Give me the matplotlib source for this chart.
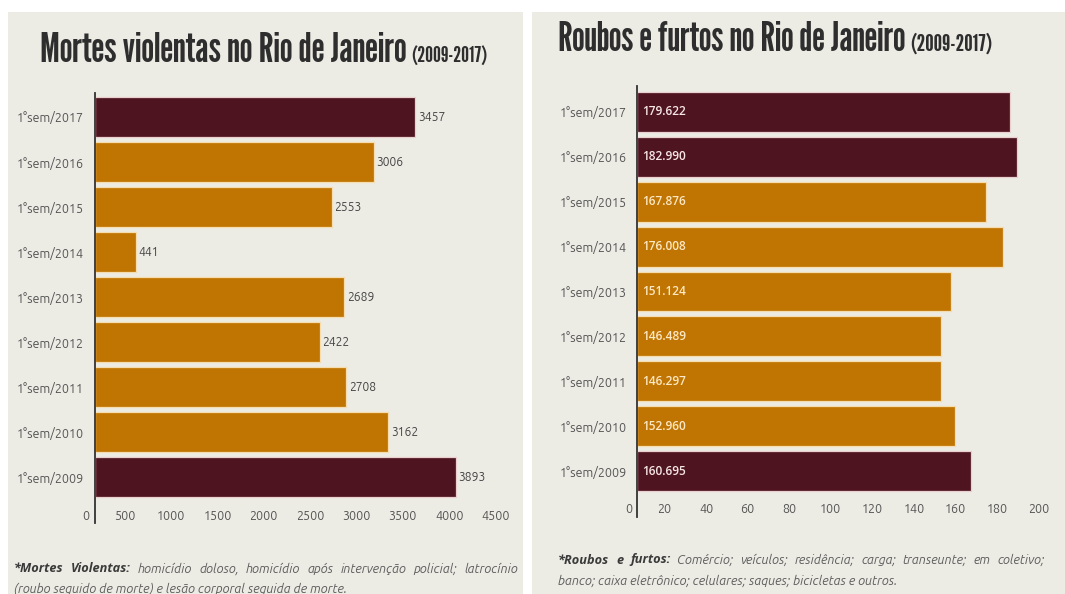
import matplotlib
matplotlib.use("Agg")
import matplotlib.pyplot as plt
from matplotlib.patches import Rectangle
from matplotlib.transforms import ScaledTranslation, blended_transform_factory

# ---------------- data ----------------
semestres = ['1°sem/2009', '1°sem/2010', '1°sem/2011', '1°sem/2012', '1°sem/2013',
             '1°sem/2014', '1°sem/2015', '1°sem/2016', '1°sem/2017']
mortes = [3893, 3162, 2708, 2422, 2689, 441, 2553, 3006, 3457]
roubos = [160.695, 152.960, 146.297, 146.489, 151.124, 176.008, 167.876, 182.990, 179.622]
mortes_destaque = ['1°sem/2009', '1°sem/2017']
roubos_destaque = ['1°sem/2009', '1°sem/2016', '1°sem/2017']
mortes_ticks = [0, 500, 1000, 1500, 2000, 2500, 3000, 3500, 4000, 4500]
roubos_ticks = [0, 20, 40, 60, 80, 100, 120, 140, 160, 180, 200]

titulo_mortes = 'Mortes violentas no Rio de Janeiro'
titulo_roubos = 'Roubos e furtos no Rio de Janeiro'
periodo = '(2009-2017)'

nota_mortes_l1 = [('*Mortes', True), ('Violentas:', True), ('homicídio', False), ('doloso,', False),
                  ('homicídio', False), ('após', False), ('intervenção', False), ('policial;', False),
                  ('latrocínio', False)]
nota_mortes_l2 = '(roubo seguido de morte) e lesão corporal seguida de morte.'
nota_roubos_l1 = [('*Roubos', True), ('e', True), ('furtos:', True), ('Comércio;', False),
                  ('veículos;', False), ('residência;', False), ('carga;', False),
                  ('transeunte;', False), ('em', False), ('coletivo;', False)]
nota_roubos_l2 = 'banco; caixa eletrônico; celulares; saques; bicicletas e outros.'

# ---------------- style ----------------
W, H, DPI = 1065, 594, 100
BG = '#ECEBE4'
MAROON = '#4E1520'
ORANGE = '#C07402'
EDGE_M = '#EBCFCF'
EDGE_O = '#F6DDB0'
TITLE_C = '#2E2E2E'
TICK_C = '#555555'
SANS = ['Ubuntu', 'Open Sans', 'DejaVu Sans']
BOLD_SANS = ['Open Sans', 'DejaVu Sans']
TITLE_FONT = ['League Gothic', 'Oswald', 'DejaVu Sans']

plt.rcParams['font.family'] = SANS

fig = plt.figure(figsize=(W / DPI, H / DPI), dpi=DPI, facecolor='white')


def fx(x):
    return x / W


def fy(y):
    return 1 - y / H


def px_axes(x0, y0, x1, y1):
    return fig.add_axes([fx(x0), fy(y1), (x1 - x0) / W, (y1 - y0) / H])


# background panels
fig.add_artist(Rectangle((fx(8), fy(594)), (523 - 8) / W, (594 - 12) / H,
                         transform=fig.transFigure, facecolor=BG, edgecolor='none', zorder=0))
fig.add_artist(Rectangle((fx(532), fy(594)), (1065 - 532) / W, (594 - 12) / H,
                         transform=fig.transFigure, facecolor=BG, edgecolor='none', zorder=0))


def bar_panel(ax, values, destaque, xmax, ylim, ticks, inside, tick_dx, zero_dx, tick_dy, ypad):
    cores = [MAROON if s in destaque else ORANGE for s in semestres]
    bordas = [EDGE_M if s in destaque else EDGE_O for s in semestres]
    ypos = list(range(len(semestres)))
    ax.barh(ypos, values, height=0.89, color=cores, edgecolor=bordas, linewidth=0.9, zorder=2)
    ax.set_xlim(0, xmax)
    ax.set_ylim(*ylim)
    ax.patch.set_visible(False)
    for sp in ['top', 'right', 'bottom']:
        ax.spines[sp].set_visible(False)
    ax.spines['left'].set_color('#333333')
    ax.spines['left'].set_linewidth(1.3)
    ax.spines['left'].set_zorder(3)
    ax.set_yticks(ypos)
    ax.set_yticklabels(semestres)
    ax.tick_params(axis='y', length=0, pad=ypad, labelsize=9, labelcolor=TICK_C)
    ax.set_xticks([])
    # x tick labels (placed at the data positions of the ticks)
    trans = blended_transform_factory(ax.transData, ax.transAxes)
    for t in ticks:
        dx = zero_dx if t == 0 else tick_dx
        off = ScaledTranslation(dx / DPI, tick_dy / DPI, fig.dpi_scale_trans)
        ax.text(t, 0, str(t), transform=trans + off, ha='center', va='center',
                fontsize=9, color=TICK_C)
    # value labels
    for i, (s, v) in enumerate(zip(semestres, values)):
        if inside:
            cor = '#F7E6E6' if s in destaque else '#FCE8C4'
            ax.annotate('%.3f' % v, (0, i), xytext=(3.8, 0), textcoords='offset points',
                        ha='left', va='center', fontsize=8.6, fontweight='semibold',
                        family=BOLD_SANS, color=cor, zorder=4)
        else:
            ax.annotate('%d' % v, (v, i), xytext=(2.0, 0), textcoords='offset points',
                        ha='left', va='center', fontsize=8.7, color='#444444', zorder=4)


# left chart: bars 0 at x=95, 0.0927 px per unit
axL = px_axes(95, 93, 95 + 4500 * 0.0927, 523)
bar_panel(axL, mortes, mortes_destaque, 4500, (-1.02, 8.533), mortes_ticks, False,
          tick_dx=-16.5, zero_dx=-9, tick_dy=7, ypad=8)

# right chart: bars 0 at x=637, 2.078 px per unit
axR = px_axes(637, 86, 637 + 200 * 2.078, 517)
bar_panel(axR, roubos, roubos_destaque, 200, (-1.025, 8.579), roubos_ticks, True,
          tick_dx=-14, zero_dx=-8, tick_dy=8, ypad=7.2)

renderer = fig.canvas.get_renderer()


def title(x0, x1, x_sub_end, baseline, main, sub):
    t = fig.text(fx(x0), fy(baseline), main, family=TITLE_FONT, fontsize=30,
                 color=TITLE_C, ha='left', va='baseline')
    w = t.get_window_extent(renderer).width
    t.set_fontsize(30 * (x1 - x0) / w)
    w = t.get_window_extent(renderer).width
    xs = x0 + w + 5
    s = fig.text(fx(xs), fy(baseline), sub, family=TITLE_FONT, fontsize=15,
                 color=TITLE_C, ha='left', va='baseline')
    ws = s.get_window_extent(renderer).width
    s.set_fontsize(15 * (x_sub_end - xs) / ws)


title(40, 405, 488, 62, titulo_mortes, periodo)
title(558, 905, 992, 51, titulo_roubos, periodo)

NOTE_SIZE = 9.2


def justified(words, x0, x1, y, size=NOTE_SIZE):
    arts = []
    for wtxt, bold in words:
        if bold:
            a = fig.text(0, fy(y), wtxt, fontsize=size, style='italic', fontweight='bold',
                         family=BOLD_SANS, color='#3A3A3A', ha='left', va='center')
        else:
            a = fig.text(0, fy(y), wtxt, fontsize=size, style='italic',
                         color='#5E5E5E', ha='left', va='center')
        arts.append(a)
    widths = [a.get_window_extent(renderer).width for a in arts]
    gap = max(2.0, (x1 - x0 - sum(widths)) / (len(arts) - 1))
    x = x0
    for a, wd in zip(arts, widths):
        a.set_x(fx(x))
        x += wd + gap


def plain(text, x0, y, size=NOTE_SIZE):
    fig.text(fx(x0), fy(y), text, fontsize=size, style='italic', color='#5E5E5E',
             ha='left', va='center')


justified(nota_mortes_l1, 14, 518, 569)
plain(nota_mortes_l2, 14, 589)
justified(nota_roubos_l1, 558, 1045, 560)
plain(nota_roubos_l2, 558, 581)

fig.savefig('out.png', dpi=DPI, facecolor='white')
